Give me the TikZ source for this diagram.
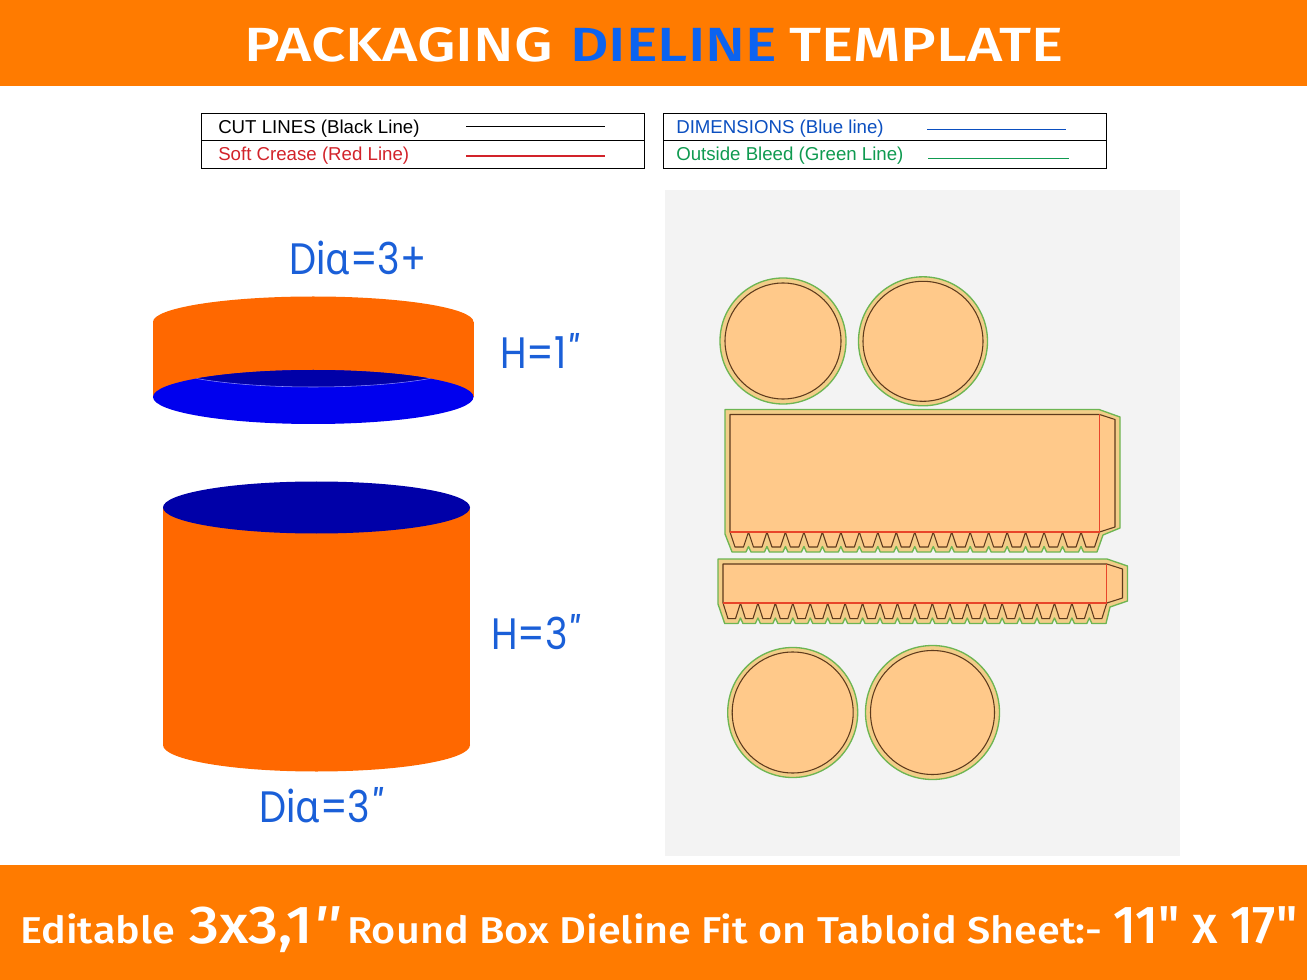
\documentclass[tikz,border=0pt]{standalone}
\usepackage{fontspec}
\setmainfont{Liberation Sans}
\newfontfamily\titlefont{Fira Sans Medium}[FakeStretch=1.26]
\newfontfamily\titleboldfont{Fira Sans Medium}[FakeStretch=1.24]
\newfontfamily\bannerfont{Fira Sans Medium}[FakeStretch=1.11]
\newfontfamily\sizefont{Fira Sans Medium}[FakeStretch=1.1]
\newfontfamily\sheetfont{Fira Sans Medium}[FakeStretch=0.95]
\newfontfamily\dimfont{Poppins}[FakeStretch=0.87, ItalicFeatures={FakeStretch=0.87}]
\newfontfamily\alphafont{Noto Sans}[FakeStretch=0.9]
\usetikzlibrary{positioning}
\definecolor{bannerorange}{HTML}{FF7B00}
\definecolor{titleblue}{HTML}{0B63F0}
\definecolor{dimblue}{HTML}{1A5FD8}
\definecolor{boxorange}{HTML}{FF6800}
\definecolor{lidblue}{HTML}{0000EE}
\definecolor{darkblue}{HTML}{0000A8}
\definecolor{panelgrey}{HTML}{F3F3F3}
\definecolor{flatfill}{HTML}{FFC98A}
\definecolor{bleedfill}{HTML}{F2CD88}
\definecolor{bleedgreen}{HTML}{6DB552}
\definecolor{cutbrown}{HTML}{5E3A1C}
\definecolor{creasered}{HTML}{E8452A}
\definecolor{legendred}{HTML}{D2232A}
\definecolor{legendblue}{HTML}{0B4FC0}
\definecolor{legendgreen}{HTML}{0F9A50}
\tikzset{
  bannertext/.style={text=white, inner sep=0pt, anchor=base west},
  dimtext/.style={text=dimblue, inner sep=0pt, anchor=base west, font=\dimfont\fontsize{33}{33}\selectfont},
  legendtext/.style={inner sep=0pt, anchor=base west, font=\fontsize{14}{14}\selectfont},
  legendbox/.style={draw=black, line width=0.75pt},
  bleedline/.style={draw=bleedgreen, fill=bleedfill, line width=1pt, line join=round},
  cutline/.style={draw=cutbrown, fill=flatfill, line width=0.8pt, line join=round},
  creaseline/.style={draw=creasered, line width=0.8pt},
}
\begin{document}
\begin{tikzpicture}[x=0.75pt,y=-0.75pt]
\useasboundingbox (0,0) rectangle (1307,980);

% banners
\fill[bannerorange] (0,0) rectangle (1307,86);
\fill[bannerorange] (0,865) rectangle (1307,980);
\node[bannertext, font=\titlefont\fontsize{36}{36}\selectfont] (titleleft) at (244,62) {PACKAGING};
\node[bannertext, font=\titleboldfont\fontsize{36}{36}\selectfont, text=titleblue] (titlemid) at (570,62) {DIELINE};
\node[bannertext, font=\titlefont\fontsize{36}{36}\selectfont] (titleright) at (789,62) {TEMPLATE};
\node[bannertext, font=\bannerfont\fontsize{28}{28}\selectfont] (editable) at (20,943) {Editable};
\node[bannertext, font=\sizefont\fontsize{40}{40}\selectfont] (sizes) at (189,943) {3x3,1\textit{''}};
\node[bannertext, font=\bannerfont\fontsize{28}{28}\selectfont] (fitline) at (347,943) {Round Box Dieline Fit on Tabloid Sheet:-};
\node[bannertext, font=\sheetfont\fontsize{40}{40}\selectfont] (sheet) at (1113,943) {11" x 17"};

% legend
\draw[legendbox] (201,114) rectangle (644,169);
\draw[legendbox] (201,141) -- (644,141);
\draw[legendbox] (663,114) rectangle (1106,169);
\draw[legendbox] (663,141) -- (1106,141);
\node[legendtext] (cutlabel) at (218,134) {CUT LINES (Black Line)};
\node[legendtext, text=legendred] (creaselabel) at (218,160.5) {Soft Crease (Red Line)};
\node[legendtext, text=legendblue] (dimlabel) at (676,133.5) {DIMENSIONS (Blue line)};
\node[legendtext, text=legendgreen] (bleedlabel) at (676,161) {Outside Bleed (Green Line)};
\draw[black, line width=0.8pt] (466,126.5) -- (605,126.5);
\draw[legendred, line width=0.8pt] (466,156) -- (605,156);
\draw[legendblue, line width=0.8pt] (927,129.5) -- (1066,129.5);
\draw[legendgreen, line width=0.8pt] (928,158.5) -- (1069,158.5);

% lid
\fill[boxorange] (153,322) rectangle (473.5,397);
\fill[boxorange] (313.25,322) ellipse [x radius=160.25, y radius=25.5];
\fill[lidblue] (313.25,397) ellipse [x radius=160.25, y radius=27];
\begin{scope}
\clip (313.25,397) ellipse [x radius=160.25, y radius=27];
\draw[fill=darkblue, draw=blue!45!white, line width=0.4pt] (313.25,360) ellipse [x radius=160.25, y radius=27];
\end{scope}
\node[dimtext] (lidtop) at (289,275) {Di{\alphafont ɑ}=3+};
\node[dimtext] (lidheight) at (500,369) {H=1\textit{"}};

% base
\fill[boxorange] (163,507.5) rectangle (470,745);
\fill[boxorange] (316.5,745) ellipse [x radius=153.5, y radius=26.5];
\fill[darkblue] (316.5,507.5) ellipse [x radius=153.5, y radius=26];
\node[dimtext] (baseheight) at (491,649) {H=3\textit{"}};
\node[dimtext] (basebottom) at (259,822) {Di{\alphafont ɑ}=3\textit{"}};

% dieline
\fill[panelgrey] (665,190) rectangle (1180,856);
\foreach \cx/\cy/\ro/\ri in {783/341/63/58, 923/341.3/64.5/60, 792.7/712.5/65/60.5, 932.5/712.5/67/62} {
  \draw[bleedline] (\cx,\cy) circle (\ro);
  \draw[cutline] (\cx,\cy) circle (\ri);
}

% side wall
\draw[bleedline] (725,409.5) -- (1099,409.5) -- (1120,417) -- (1120,528) -- (1103,535) -- (1097,552)
  \foreach \i in {19,...,1} { -- ({730+18.475*\i+2.5},552) -- ({730+18.475*\i},546.5) -- ({730+18.475*\i-2.5},552) }
  -- (732,552) -- (725,534) -- cycle;
\draw[cutline] (730,532) -- (730,414.5) -- (1099.5,414.5) -- (1115,419.5) -- (1115,527) -- (1099.5,532)
  \foreach \i in {19,...,0} { -- ({730+18.475*\i+13.5},547) -- ({730+18.475*\i+5},547) -- ({730+18.475*\i},532) };
\draw[creaseline] (730,532) -- (1099.5,532);
\draw[creaseline] (1099.5,414.5) -- (1099.5,532);

% lid wall
\draw[bleedline] (718,559) -- (1107,559) -- (1127.5,566) -- (1127.5,601) -- (1110,607) -- (1106,623.5)
  \foreach \i in {21,...,1} { -- ({723+17.445*\i+2.5},623.5) -- ({723+17.445*\i},618) -- ({723+17.445*\i-2.5},623.5) }
  -- (724.7,623.5) -- (718,604) -- cycle;
\draw[cutline] (723,603) -- (723,564) -- (1106.8,564) -- (1122.5,569) -- (1122.5,598) -- (1106.8,603)
  \foreach \i in {21,...,0} { -- ({723+17.445*\i+12.5},618.7) -- ({723+17.445*\i+5},618.7) -- ({723+17.445*\i},603) };
\draw[creaseline] (723,603) -- (1106.8,603);
\draw[creaseline] (1106.8,564) -- (1106.8,603);
\end{tikzpicture}
\end{document}
